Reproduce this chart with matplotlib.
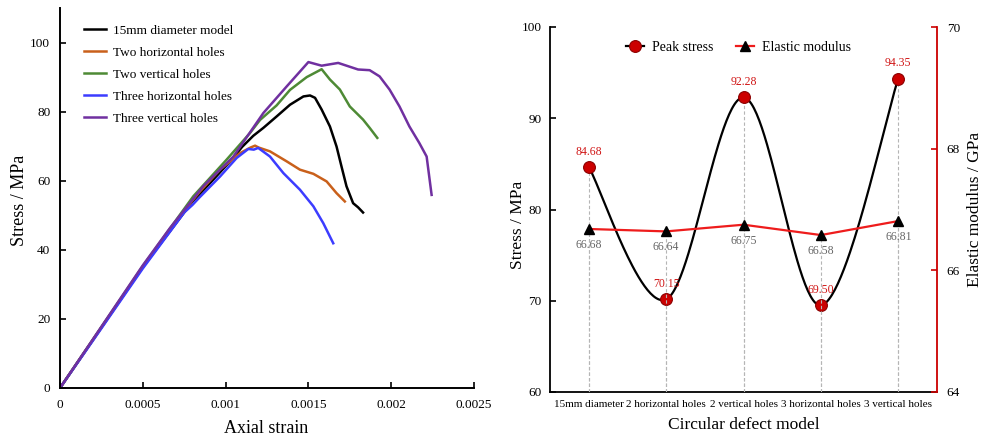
import numpy as np
import matplotlib
matplotlib.use("Agg")
import matplotlib.pyplot as plt
from matplotlib.lines import Line2D

plt.rcParams["font.family"] = ["Liberation Serif", "DejaVu Serif"]

# ---- stress-strain curves (strain in units of 1e-3, stress in MPa) ----
CURVE_LABELS = [
    "15mm diameter model",
    "Two horizontal holes",
    "Two vertical holes",
    "Three horizontal holes",
    "Three vertical holes",
]
CURVE_COLORS = ["#000000", "#c9601b", "#4e8a35", "#3c3cff", "#7030a0"]

strain_15mm = [0, 0.2, 0.5, 0.8, 0.906, 1.027, 1.1, 1.167, 1.228, 1.308, 1.389,
               1.47, 1.51, 1.54, 1.58, 1.63, 1.67, 1.70, 1.73, 1.77, 1.80, 1.83]
stress_15mm = [0, 14.0, 35.0, 54.0, 59.3, 65.6, 69.8, 73.0, 75.3, 78.6, 82.0,
               84.4, 84.68, 84.0, 80.6, 75.7, 69.9, 64.1, 58.4, 53.5, 52.3, 50.8]

strain_2h = [0, 0.2, 0.5, 0.8, 0.845, 0.966, 1.087, 1.15, 1.178, 1.2, 1.268,
             1.369, 1.449, 1.53, 1.61, 1.67, 1.72]
stress_2h = [0, 14.0, 35.0, 54.3, 56.9, 63.2, 68.0, 69.6, 70.15, 69.6, 68.5,
             65.6, 63.2, 62.0, 59.8, 56.4, 54.0]

strain_2v = [0, 0.2, 0.5, 0.805, 1.006, 1.147, 1.208, 1.308, 1.389, 1.49, 1.58,
             1.63, 1.69, 1.75, 1.83, 1.87, 1.916]
stress_2v = [0, 14.1, 35.3, 55.5, 66.1, 73.8, 77.6, 81.8, 86.3, 90.0, 92.28,
             89.3, 86.4, 81.5, 77.7, 75.3, 72.4]

strain_3h = [0, 0.2, 0.5, 0.75, 0.8, 0.845, 0.966, 1.067, 1.137, 1.17, 1.197,
             1.268, 1.349, 1.449, 1.53, 1.59, 1.65]
stress_3h = [0, 13.8, 34.6, 50.8, 53.0, 55.3, 61.2, 66.6, 69.2, 69.0, 69.5,
             67.0, 62.2, 57.4, 52.6, 47.7, 41.9]

strain_3v = [0, 0.2, 0.5, 0.664, 0.865, 1.047, 1.228, 1.369, 1.5, 1.58, 1.68,
             1.80, 1.87, 1.93, 1.99, 2.05, 2.11, 2.17, 2.214, 2.244]
stress_3v = [0, 14.2, 35.5, 46.3, 58.4, 67.0, 79.6, 87.3, 94.35, 93.3, 94.1,
             92.2, 92.0, 90.2, 86.4, 81.5, 75.7, 70.9, 67.0, 55.9]

STRAIN_TICKS = [0, 0.0005, 0.001, 0.0015, 0.002, 0.0025]
STRAIN_TICK_LABELS = ["0", "0.0005", "0.001", "0.0015", "0.002", "0.0025"]

# ---- peak stress / elastic modulus per defect model ----
MODELS = ["15mm diameter", "2 horizontal holes", "2 vertical holes",
          "3 horizontal holes", "3 vertical holes"]
PEAK_STRESS = [84.68, 70.15, 92.28, 69.50, 94.35]
ELASTIC_MODULUS = [66.68, 66.64, 66.75, 66.58, 66.81]


def catmull_rom(xs, ys, n=60):
    """Smooth line through every point (like a spreadsheet 'smoothed line')."""
    pts = np.column_stack([xs, ys]).astype(float)
    padded = np.vstack([pts[0], pts, pts[-1]])
    t = np.linspace(0, 1, n)[:, None]
    h00 = 2 * t**3 - 3 * t**2 + 1
    h10 = t**3 - 2 * t**2 + t
    h01 = -2 * t**3 + 3 * t**2
    h11 = t**3 - t**2
    segs = []
    for i in range(1, len(padded) - 2):
        p0, p1, p2, p3 = padded[i - 1:i + 3]
        m1 = (p2 - p0) / 2
        m2 = (p3 - p1) / 2
        segs.append(h00 * p1 + h10 * m1 + h01 * p2 + h11 * m2)
    out = np.vstack(segs)
    return out[:, 0], out[:, 1]


fig = plt.figure(figsize=(9.88, 4.38), dpi=100)

# ================= left: stress-strain curves =================
ax = fig.add_axes([60 / 988, 1 - 388 / 438, 414 / 988, 380 / 438])
curves = [
    (strain_15mm, stress_15mm),
    (strain_2h, stress_2h),
    (strain_2v, stress_2v),
    (strain_3h, stress_3h),
    (strain_3v, stress_3v),
]
for (eps, sig), label, color in zip(curves, CURVE_LABELS, CURVE_COLORS):
    ax.plot(np.array(eps) * 1e-3, sig, color=color, lw=1.8, label=label,
            solid_joinstyle="round")

ax.set_xlim(0, 0.0025)
ax.set_ylim(0, 110)
ax.set_xticks(STRAIN_TICKS)
ax.set_xticklabels(STRAIN_TICK_LABELS)
ax.set_yticks([0, 20, 40, 60, 80, 100])
for side in ["top", "right"]:
    ax.spines[side].set_visible(False)
for side in ["left", "bottom"]:
    ax.spines[side].set_linewidth(1.4)
ax.tick_params(direction="in", length=4, width=1.2, labelsize=9.5)
ax.tick_params(axis="x", pad=8)
ax.tick_params(axis="y", pad=7)
ax.set_xlabel("Axial strain", fontsize=13)
ax.set_ylabel("Stress / MPa", fontsize=13)
ax.xaxis.set_label_coords(0.497, -0.084)
ax.yaxis.set_label_coords(-0.077, 0.495)
ax.legend(loc="upper left", bbox_to_anchor=(0.057, 0.957), frameon=False,
          fontsize=9.5, handlelength=1.7, handletextpad=0.5,
          labelspacing=0.74, borderpad=0, borderaxespad=0)

# ================= right: peak stress and modulus =================
ax2 = fig.add_axes([550 / 988, 1 - 392 / 438, 387 / 988, 365 / 438])
ax3 = ax2.twinx()
xpos = np.arange(len(MODELS))

ax2.vlines(xpos, 60, PEAK_STRESS, colors="#b5b5b5", lw=0.8,
           linestyles=(0, (3, 2)), zorder=1)
ax3.vlines(xpos, 64, ELASTIC_MODULUS, colors="#b5b5b5", lw=0.8,
           linestyles=(0, (3, 2)), zorder=1)

sx, sy = catmull_rom(xpos, PEAK_STRESS)
ax2.plot(sx, sy, color="black", lw=1.6, zorder=2)
ax2.plot(xpos, PEAK_STRESS, ls="none", marker="o", ms=8.5,
         mfc="#cc0000", mec="#8b0000", mew=0.8, zorder=3)
for x, v in zip(xpos, PEAK_STRESS):
    ax2.annotate(f"{v:.2f}", (x, v), xytext=(0, 11), textcoords="offset points",
                 ha="center", va="center", fontsize=8.5, color="#d01515")

ax3.plot(xpos, ELASTIC_MODULUS, color="#ee1c1c", lw=1.6, zorder=2)
ax3.plot(xpos, ELASTIC_MODULUS, ls="none", marker="^", ms=7.5,
         mfc="black", mec="black", zorder=3)
for x, v in zip(xpos, ELASTIC_MODULUS):
    ax3.annotate(f"{v:.2f}", (x, v), xytext=(0, -11.5), textcoords="offset points",
                 ha="center", va="center", fontsize=8.5, color="#666666")

ax2.set_xlim(-0.5, len(MODELS) - 0.5)
ax2.set_ylim(60, 100)
ax2.set_yticks([60, 70, 80, 90, 100])
ax3.set_ylim(64, 70)
ax3.set_yticks([64, 66, 68, 70])
ax2.set_xticks(xpos)
ax2.set_xticklabels(MODELS, fontsize=8)

ax2.spines["top"].set_visible(False)
ax3.spines["top"].set_visible(False)
ax3.spines["left"].set_visible(False)
ax3.spines["bottom"].set_visible(False)
ax2.spines["right"].set_visible(False)
for side in ["left", "bottom"]:
    ax2.spines[side].set_linewidth(1.3)
ax3.spines["right"].set_color("#cc0000")
ax3.spines["right"].set_linewidth(1.3)

ax2.tick_params(axis="x", length=0, pad=6)
ax2.tick_params(axis="y", direction="in", length=4, width=1.2,
                labelsize=9.5, pad=6)
ax3.tick_params(axis="y", direction="in", length=4, width=1.2, color="#cc0000",
                labelsize=9.5, pad=7)

ax2.set_xlabel("Circular defect model", fontsize=12.5)
ax2.set_ylabel("Stress / MPa", fontsize=12.5)
ax3.set_ylabel("Elastic modulus / GPa", fontsize=12.5)
ax2.xaxis.set_label_coords(0.5, -0.068)
ax2.yaxis.set_label_coords(-0.062, 0.4575)
ax3.yaxis.set_label_coords(1.0775, 0.5)

handles = [
    Line2D([], [], color="black", lw=1.6, marker="o", ms=8.5,
           mfc="#cc0000", mec="#8b0000", mew=0.8),
    Line2D([], [], color="#ee1c1c", lw=1.6, marker="^", ms=7.5,
           mfc="black", mec="black"),
]
ax2.legend(handles, ["Peak stress", "Elastic modulus"], loc="center",
           bbox_to_anchor=(0.487, 0.945), ncol=2, frameon=False, fontsize=10,
           handlelength=1.3, handletextpad=0.6, columnspacing=1.6,
           borderpad=0, borderaxespad=0)

fig.savefig("out.png", dpi=100)
